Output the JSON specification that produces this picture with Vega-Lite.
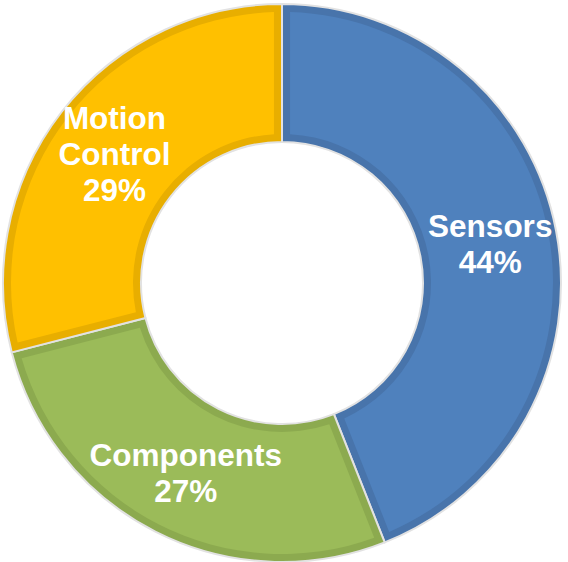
{
  "$schema": "https://vega.github.io/schema/vega-lite/v6.json",
  "autosize": "none",
  "width": 562,
  "height": 562,
  "padding": {"left": 1, "top": 2, "right": 0, "bottom": 0},
  "background": "white",
  "config": {"view": {"stroke": null}},
  "data": {
    "values": [
      {"segment": "Sensors", "share": 44, "order": 1, "label": "Sensors\n44%", "lines": 2},
      {"segment": "Components", "share": 27, "order": 2, "label": "Components\n27%", "lines": 2},
      {"segment": "Motion Control", "share": 29, "order": 3, "label": "Motion\nControl\n29%", "lines": 3}
    ]
  },
  "encoding": {
    "theta": {"field": "share", "type": "quantitative", "stack": true},
    "order": {"field": "order", "type": "quantitative"}
  },
  "layer": [
    {
      "mark": {"type": "arc", "radius": 279, "radius2": 141, "stroke": "#e2e2e2", "strokeWidth": 2},
      "encoding": {
        "color": {
          "field": "segment", "type": "nominal", "legend": null,
          "scale": {"domain": ["Sensors", "Components", "Motion Control"], "range": ["#4874AB", "#8CAA4F", "#E8AE00"]}
        }
      }
    },
    {
      "mark": {"type": "arc", "radius": 271, "radius2": 149, "padAngle": 0.052},
      "encoding": {
        "fill": {
          "field": "segment", "type": "nominal", "legend": null,
          "scale": {"domain": ["Sensors", "Components", "Motion Control"], "range": ["#4F81BD", "#9BBB59", "#FFC000"]}
        }
      }
    },
    {
      "layer": [
        {
          "mark": {"type": "text", "radius": 212, "dy": -15, "font": "Liberation Sans", "fontWeight": "bold", "fontSize": 31.5, "fill": "white", "lineBreak": "\n", "lineHeight": 36, "align": "center", "baseline": "middle"},
          "encoding": {
            "text": {"field": "label", "type": "nominal"},
            "opacity": {"condition": {"test": "datum.lines === 2", "value": 1}, "value": 0}
          }
        },
        {
          "mark": {"type": "text", "radius": 212, "dy": -33, "font": "Liberation Sans", "fontWeight": "bold", "fontSize": 31.5, "fill": "white", "lineBreak": "\n", "lineHeight": 36, "align": "center", "baseline": "middle"},
          "encoding": {
            "text": {"field": "label", "type": "nominal"},
            "opacity": {"condition": {"test": "datum.lines === 3", "value": 1}, "value": 0}
          }
        }
      ]
    }
  ],
  "resolve": {"scale": {"color": "independent", "fill": "independent"}}
}
